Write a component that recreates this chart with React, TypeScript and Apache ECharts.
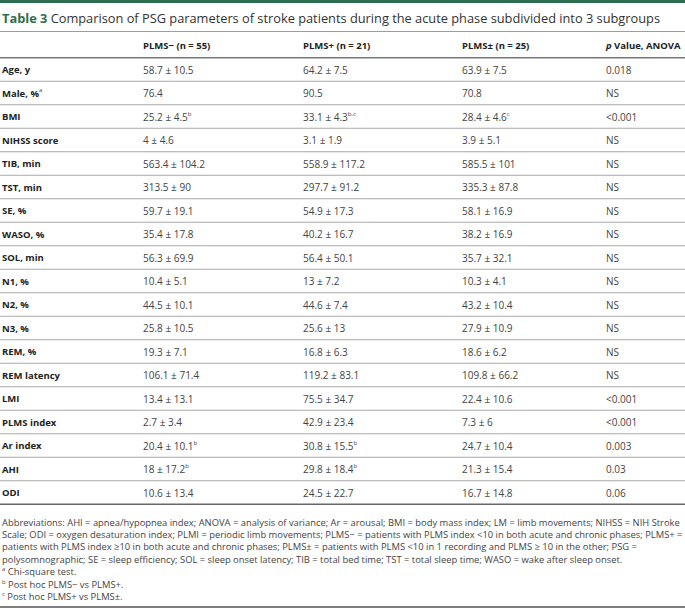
import React, { useEffect, useRef } from "react";
import * as echarts from "echarts";

const headers = ["PLMS− (n = 55)", "PLMS+ (n = 21)", "PLMS± (n = 25)", "p Value, ANOVA"];
const rowLabels = ["Age, y", "Male, %^a", "BMI", "NIHSS score", "TIB, min", "TST, min", "SE, %", "WASO, %", "SOL, min", "N1, %", "N2, %", "N3, %", "REM, %", "REM latency", "LMI", "PLMS index", "Ar index", "AHI", "ODI"];
const plmsMinus = ["58.7 ± 10.5", "76.4", "25.2 ± 4.5^b", "4 ± 4.6", "563.4 ± 104.2", "313.5 ± 90", "59.7 ± 19.1", "35.4 ± 17.8", "56.3 ± 69.9", "10.4 ± 5.1", "44.5 ± 10.1", "25.8 ± 10.5", "19.3 ± 7.1", "106.1 ± 71.4", "13.4 ± 13.1", "2.7 ± 3.4", "20.4 ± 10.1^b", "18 ± 17.2^b", "10.6 ± 13.4"];
const plmsPlus = ["64.2 ± 7.5", "90.5", "33.1 ± 4.3^b,c", "3.1 ± 1.9", "558.9 ± 117.2", "297.7 ± 91.2", "54.9 ± 17.3", "40.2 ± 16.7", "56.4 ± 50.1", "13 ± 7.2", "44.6 ± 7.4", "25.6 ± 13", "16.8 ± 6.3", "119.2 ± 83.1", "75.5 ± 34.7", "42.9 ± 23.4", "30.8 ± 15.5^b", "29.8 ± 18.4^b", "24.5 ± 22.7"];
const plmsPm = ["63.9 ± 7.5", "70.8", "28.4 ± 4.6^c", "3.9 ± 5.1", "585.5 ± 101", "335.3 ± 87.8", "58.1 ± 16.9", "38.2 ± 16.9", "35.7 ± 32.1", "10.3 ± 4.1", "43.2 ± 10.4", "27.9 ± 10.9", "18.6 ± 6.2", "109.8 ± 66.2", "22.4 ± 10.6", "7.3 ± 6", "24.7 ± 10.4", "21.3 ± 15.4", "16.7 ± 14.8"];
const pValues = ["0.018", "NS", "<0.001", "NS", "NS", "NS", "NS", "NS", "NS", "NS", "NS", "NS", "NS", "NS", "<0.001", "<0.001", "0.003", "0.03", "0.06"];

const titleLabel = "Table 3";
const titleText = "Comparison of PSG parameters of stroke patients during the acute phase subdivided into 3 subgroups";
const footnoteLines = [
  "Abbreviations: AHI = apnea/hypopnea index; ANOVA = analysis of variance; Ar = arousal; BMI = body mass index; LM = limb movements; NIHSS = NIH Stroke",
  "Scale; ODI = oxygen desaturation index; PLMI = periodic limb movements; PLMS− = patients with PLMS index <10 in both acute and chronic phases; PLMS+ =",
  "patients with PLMS index ≥10 in both acute and chronic phases; PLMS± = patients with PLMS <10 in 1 recording and PLMS ≥ 10 in the other; PSG =",
  "polysomnographic; SE = sleep efficiency; SOL = sleep onset latency; TIB = total bed time; TST = total sleep time; WASO = wake after sleep onset.",
];
const footnoteMarks = [
  ["a", "Chi-square test."],
  ["b", "Post hoc PLMS− vs PLMS+."],
  ["c", "Post hoc PLMS+ vs PLMS±."],
];

// layout
const W = 685;
const H = 610;
const COL_X = [2, 143, 303, 462, 606];
const GRID_TOP = 57.75;
const ROW_H = 23.5;
const GREEN = "#2c6e4f";
const FONT = "'Open Sans', 'Noto Sans', sans-serif";

function richOf(s: string, base: string) {
  const i = s.indexOf("^");
  if (i < 0) return `{${base}|${s}}`;
  return `{${base}|${s.slice(0, i)}}{sup|${s.slice(i + 1)}}`;
}

export default function App() {
  const ref = useRef<HTMLDivElement>(null);
  useEffect(() => {
    document.body.style.margin = "0";
    const chart = echarts.init(ref.current!, null, { renderer: "svg" });
    const cols = [rowLabels, plmsMinus, plmsPlus, plmsPm, pValues];
    const rich = {
      lab: { fontFamily: FONT, fontSize: 9.5, fontWeight: "bold", fill: "#222", lineHeight: 12 },
      val: { fontFamily: FONT, fontSize: 10, fill: "#444", lineHeight: 12 },
      sup: { fontFamily: FONT, fontSize: 6, fill: "#444", lineHeight: 12, verticalAlign: "top", padding: [0, 0, 5, 0] },
    };
    const footY0 = 522;
    const footDy = 12.4;
    const FOOT_FS = 9.4;
    const graphics: any[] = [
      { type: "rect", left: 0, top: 0, shape: { width: W, height: 3 }, style: { fill: GREEN } },
      {
        type: "text", left: 2, top: 11,
        style: {
          text: `{g|${titleLabel}} {t|${titleText}}`,
          rich: {
            g: { fontFamily: FONT, fontSize: 12.8, fontWeight: "bold", fill: GREEN },
            t: { fontFamily: FONT, fontSize: 12.8, fill: "#333" },
          },
        },
      },
      { type: "line", shape: { x1: 0, y1: 31.5, x2: W, y2: 31.5 }, style: { stroke: "#8aa89a", lineWidth: 1 } },
      { type: "line", shape: { x1: 0, y1: GRID_TOP, x2: W, y2: GRID_TOP }, style: { stroke: "#777", lineWidth: 1.5 } },
      { type: "line", shape: { x1: 0, y1: 607, x2: W, y2: 607 }, style: { stroke: "#555", lineWidth: 1.5 } },
    ];
    headers.forEach((h, i) => {
      const isP = h.startsWith("p ");
      graphics.push({
        type: "text", x: COL_X[i + 1], y: 45,
        style: {
          text: isP ? `{pi|p}{h| ${h.slice(2)}}` : `{h|${h}}`,
          verticalAlign: "middle",
          rich: {
            h: { fontFamily: FONT, fontSize: 9.5, fontWeight: "bold", fill: "#222" },
            pi: { fontFamily: FONT, fontSize: 9.5, fontWeight: "bold", fontStyle: "italic", fill: "#222" },
          },
        },
      });
    });
    footnoteLines.forEach((l, i) => {
      graphics.push({
        type: "text", x: 2, y: footY0 + i * footDy,
        style: { text: l, fontFamily: FONT, fontSize: FOOT_FS, fill: "#444", verticalAlign: "middle" },
      });
    });
    footnoteMarks.forEach(([m, t], i) => {
      graphics.push({
        type: "text", x: 2, y: footY0 + (footnoteLines.length + i) * footDy,
        style: {
          text: `{s|${m}}{f| ${t}}`,
          verticalAlign: "middle",
          rich: {
            s: { fontFamily: FONT, fontSize: 6, fill: "#444", verticalAlign: "top", lineHeight: 11, padding: [0, 0, 4, 0] },
            f: { fontFamily: FONT, fontSize: FOOT_FS, fill: "#444", lineHeight: 11 },
          },
        },
      });
    });

    chart.setOption({
      animation: false,
      grid: { left: 0, right: 0, top: GRID_TOP, height: ROW_H * rowLabels.length },
      xAxis: { type: "value", min: 0, max: W, show: false },
      yAxis: { type: "category", data: rowLabels, inverse: true, show: false },
      graphic: graphics,
      series: [
        {
          type: "custom",
          data: rowLabels.map((_, i) => [i]),
          encode: { y: 0 },
          renderItem: (params: any, api: any) => {
            const r = api.value(0);
            const bandH = api.size([0, 1])[1];
            const children: any[] = cols.map((col, c) => {
              const p = api.coord([COL_X[c], r]);
              return {
                type: "text", x: p[0], y: p[1],
                style: { text: richOf(col[r], c === 0 ? "lab" : "val"), verticalAlign: "middle", rich },
              };
            });
            const left = api.coord([0, r]);
            const right = api.coord([W, r]);
            const yb = left[1] + bandH / 2;
            const last = r === rowLabels.length - 1;
            children.push({
              type: "line",
              shape: { x1: left[0], y1: yb, x2: right[0], y2: yb },
              style: { stroke: last ? "#666" : "#a8a8a8", lineWidth: last ? 1.5 : 1 },
            });
            return { type: "group", children };
          },
        },
      ],
    });
    return () => chart.dispose();
  }, []);
  return <div ref={ref} style={{ width: W, height: H }} />;
}
